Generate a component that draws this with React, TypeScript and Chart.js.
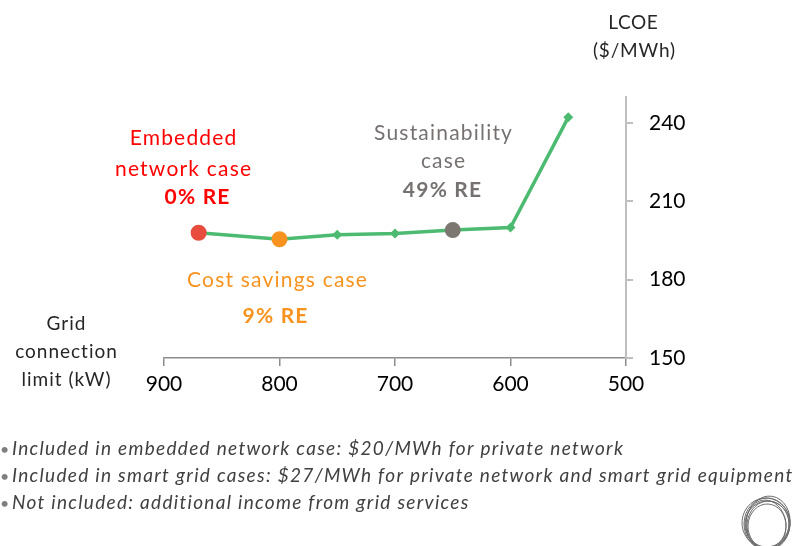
import React, { useEffect, useRef } from 'react';
import { Chart, registerables } from 'chart.js';

Chart.register(...registerables);

const gridLimits = [870, 800, 750, 700, 650, 600, 550];
const lcoe = [198, 195.5, 197.2, 197.7, 199, 200, 242.2];
const pointColors = ['#e84c3d', '#f7931e', '#4cbb71', '#4cbb71', '#7d7772', '#4cbb71', '#4cbb71'];
const pointStyles = ['circle', 'circle', 'rectRot', 'rectRot', 'circle', 'rectRot', 'rectRot'];
const pointSizes = [8, 8, 5, 5, 8, 5, 5];
const xTickValues = [900, 800, 700, 600, 500];
const yTickValues = [150, 180, 210, 240];

const yTitle = ['LCOE', '($/MWh)'];
const xTitle = ['Grid', 'connection', 'limit (kW)'];
const notes = [
  'Included in embedded network case: $20/MWh for private network',
  'Included in smart grid cases: $27/MWh for private network and smart grid equipment',
  'Not included: additional income from grid services',
];

type Line = { text: string; bold?: boolean };
const annotations: { color: string; x: number; lines: { t: Line; y: number; x?: number }[] }[] = [
  {
    color: '#ff0000',
    x: 183,
    lines: [
      { t: { text: 'Embedded' }, y: 145 },
      { t: { text: 'network case' }, y: 176 },
      { t: { text: '0% RE', bold: true }, y: 204, x: 197 },
    ],
  },
  {
    color: '#f7931e',
    x: 277,
    lines: [
      { t: { text: 'Cost savings case' }, y: 287 },
      { t: { text: '9% RE', bold: true }, y: 323, x: 275 },
    ],
  },
  {
    color: '#767171',
    x: 443,
    lines: [
      { t: { text: 'Sustainability' }, y: 140 },
      { t: { text: 'case' }, y: 168 },
      { t: { text: '49% RE', bold: true }, y: 197, x: 442 },
    ],
  },
];

const FONT = 'Lato, "Open Sans", sans-serif';

const centered = (ctx: any, text: string, x: number, y: number, spacing: number) => {
  ctx.letterSpacing = `${spacing}px`;
  ctx.textAlign = 'left';
  const w = ctx.measureText(text).width - spacing;
  ctx.fillText(text, x - w / 2, y);
};

const textPlugin = {
  id: 'texts',
  afterDraw(chart: any) {
    const ctx = chart.ctx as any;
    ctx.save();
    ctx.textBaseline = 'alphabetic';
    for (const a of annotations) {
      ctx.fillStyle = a.color;
      for (const l of a.lines) {
        ctx.font = `${l.t.bold ? 'bold ' : ''}21px ${FONT}`;
        centered(ctx, l.t.text, l.x ?? a.x, l.y, 1.2);
      }
    }
    // axis titles
    ctx.fillStyle = '#262626';
    ctx.font = `19px ${FONT}`;
    centered(ctx, yTitle[0], 633, 29, 0.6);
    centered(ctx, yTitle[1], 634, 57, 0.8);
    centered(ctx, xTitle[0], 66, 330, 1);
    centered(ctx, xTitle[1], 66, 358, 1);
    centered(ctx, xTitle[2], 66, 386, 1);
    // notes
    ctx.textAlign = 'left';
    ctx.fillStyle = '#404040';
    notes.forEach((n, i) => {
      const y = 455 + i * 27;
      ctx.letterSpacing = '0px';
      ctx.font = `16px ${FONT}`;
      ctx.fillStyle = '#7f7f7f';
      ctx.fillText('\u2022', 0, y);
      ctx.fillStyle = '#404040';
      ctx.letterSpacing = '1.3px';
      ctx.font = `italic 19px ${FONT}`;
      ctx.fillText(n, 12, y);
    });
    // logo ring
    ctx.letterSpacing = '0px';
    ctx.strokeStyle = '#6e6e6e';
    ctx.lineWidth = 1;
    const rings = [
      [767, 524, 23, 26, 0],
      [768, 525, 21, 24, 0.1],
      [766, 523, 24, 25, -0.1],
      [767, 526, 19, 22, 0.05],
      [768, 523, 22, 27, 0.15],
      [766, 525, 20, 25, -0.12],
      [767, 524, 22, 23, 0.2],
    ];
    for (const r of rings) {
      ctx.beginPath();
      ctx.ellipse(r[0], r[1], r[2], r[3], r[4], 0, Math.PI * 2);
      ctx.stroke();
    }
    ctx.restore();
  },
};

export default function App() {
  const ref = useRef<HTMLCanvasElement>(null);
  useEffect(() => {
    if (!ref.current) return;
    const chart = new Chart(ref.current, {
      type: 'line',
      data: {
        datasets: [
          {
            data: gridLimits.map((x, i) => ({ x, y: lcoe[i] })),
            borderColor: '#4cbb71',
            borderWidth: 3.5,
            pointStyle: pointStyles as any,
            pointRadius: pointSizes,
            pointBackgroundColor: pointColors,
            pointBorderColor: pointColors,
            pointBorderWidth: 0,
            tension: 0,
          },
        ],
      },
      options: {
        animation: false,
        responsive: false,
        events: [],
        layout: { padding: { left: 164, top: 97, right: 89, bottom: 148 } },
        plugins: { legend: { display: false }, tooltip: { enabled: false } },
        scales: {
          x: {
            type: 'linear',
            reverse: true,
            min: 500,
            max: 900,
            afterBuildTicks: (axis: any) => {
              axis.ticks = xTickValues.map((v) => ({ value: v }));
            },
            afterFit: (s: any) => {
              s.height = 40;
            },
            grid: { drawOnChartArea: false, drawTicks: true, tickLength: 8, color: '#8c8c8c', lineWidth: 1.5 },
            border: { display: true, color: '#8c8c8c', width: 1.5 },
            ticks: { color: '#000', font: { family: FONT, size: 21 }, padding: 6, maxRotation: 0 },
          },
          y: {
            type: 'linear',
            position: 'right',
            min: 150,
            max: 250,
            afterBuildTicks: (axis: any) => {
              axis.ticks = yTickValues.map((v) => ({ value: v }));
            },
            afterFit: (s: any) => {
              s.width = 80;
            },
            grid: { drawOnChartArea: false, drawTicks: true, tickLength: 7, color: '#bfbfbf', lineWidth: 2 },
            border: { display: true, color: '#bfbfbf', width: 2 },
            ticks: { color: '#000', font: { family: FONT, size: 21 }, padding: 16 },
          },
        },
      },
      plugins: [textPlugin],
    });
    return () => chart.destroy();
  }, []);
  return (
    <div style={{ position: 'absolute', left: 0, top: 0, width: 795, height: 546, background: '#fff' }}>
      <canvas ref={ref} width={795} height={546} style={{ display: 'block' }} />
    </div>
  );
}
